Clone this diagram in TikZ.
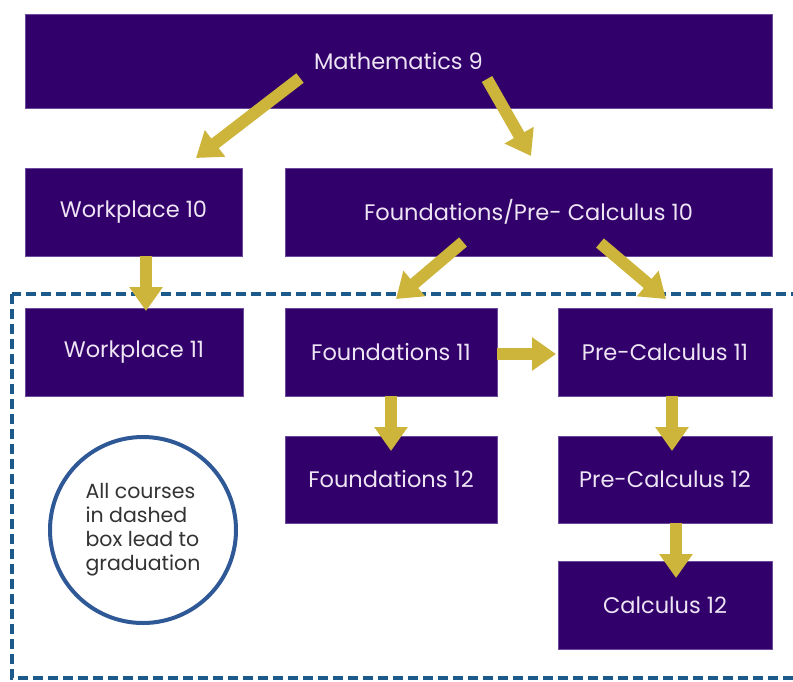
\documentclass[tikz,border=0pt]{standalone}
\usepackage{fontspec}
\setmainfont{Poppins}
\usetikzlibrary{arrows.meta}
\definecolor{boxfill}{HTML}{32006A}
\definecolor{boxedge}{HTML}{6A4A9A}
\definecolor{boxtext}{HTML}{EDE4F4}
\definecolor{gold}{HTML}{CDB43A}
\definecolor{dashblue}{HTML}{1B5A8A}
\definecolor{circblue}{HTML}{2F5896}
\begin{document}
\begin{tikzpicture}[x=1pt,y=-1pt,
  box/.style={draw=boxedge, line width=0.8pt, fill=boxfill, text=boxtext,
    font=\fontsize{22.5}{26}\selectfont, inner sep=0pt},
  garrow/.style={draw=gold, line width=12pt, -{Triangle[width=32pt,length=24pt]}},
  note/.style={circle, draw=circblue, line width=4pt, fill=white, minimum size=186pt,
    inner sep=0pt, font=\fontsize{20.5}{24}\selectfont, text=black!80, align=left}
]
\useasboundingbox (0,0) rectangle (793,681);
\clip (0,0) rectangle (793,681);
\fill[white] (0,0) rectangle (793,681);

% dashed region
\draw[dashblue, line width=4pt, dash pattern=on 10pt off 5pt] (12,294) rectangle (810,678);

% boxes
\node[box, minimum width=747pt, minimum height=94pt] (m9) at (398.5,61) {Mathematics 9};
\node[box, minimum width=217pt, minimum height=88pt] (w10) at (133.5,212) {Workplace 10};
\node[box, minimum width=487pt, minimum height=88pt] (fpc10) at (528.5,212) {Foundations/Pre- Calculus 10};
\node[box, minimum width=218pt, minimum height=88pt] (w11) at (134,352) {Workplace 11};
\node[box, minimum width=212pt, minimum height=88pt] (f11) at (391,352) {Foundations 11};
\node[box, minimum width=214pt, minimum height=88pt] (pc11) at (665,352) {Pre-Calculus 11};
\node[box, minimum width=212pt, minimum height=87pt] (f12) at (391,479.5) {Foundations 12};
\node[box, minimum width=214pt, minimum height=87pt] (pc12) at (665,479.5) {Pre-Calculus 12};
\node[box, minimum width=214pt, minimum height=88pt] (c12) at (665,605) {Calculus 12};

% note circle
\node[note] (note) at (143,530) {All courses\\in dashed\\box lead to\\graduation};

% arrow anchor coordinates
\coordinate (a1s) at (300,78);   \coordinate (a1e) at (196,158);
\coordinate (a2s) at (487,79);   \coordinate (a2e) at (531,156);
\coordinate (a3s) at (146,256);  \coordinate (a3e) at (146,311);
\coordinate (a4s) at (463,242);  \coordinate (a4e) at (396,299);
\coordinate (a5s) at (600,243);  \coordinate (a5e) at (666,299);
\coordinate (a6s) at (497,354);  \coordinate (a6e) at (556,354);
\coordinate (a7s) at (391,396);  \coordinate (a7e) at (391,451);
\coordinate (a8s) at (672,396);  \coordinate (a8e) at (672,451);
\coordinate (a9s) at (676,523);  \coordinate (a9e) at (676,578);

\draw[garrow] (a1s) -- (a1e);
\draw[garrow] (a2s) -- (a2e);
\draw[garrow] (a3s) -- (a3e);
\draw[garrow] (a4s) -- (a4e);
\draw[garrow] (a5s) -- (a5e);
\draw[garrow] (a6s) -- (a6e);
\draw[garrow] (a7s) -- (a7e);
\draw[garrow] (a8s) -- (a8e);
\draw[garrow] (a9s) -- (a9e);
\end{tikzpicture}
\end{document}
